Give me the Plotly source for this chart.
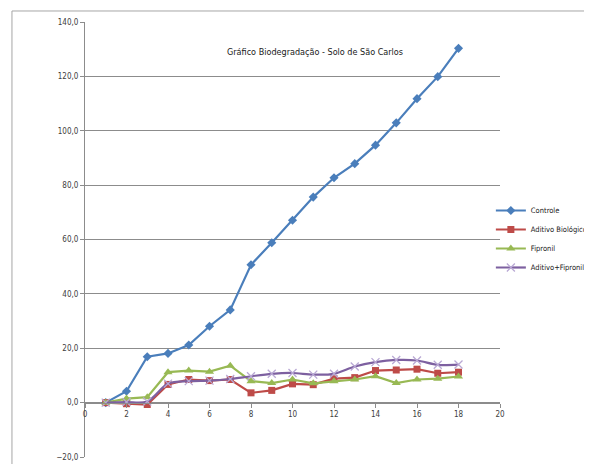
import plotly.graph_objects as go

x_days = list(range(1, 19))
controle = [0.0, 4.2, 16.9, 18.1, 21.2, 28.1, 34.1, 50.7, 58.8, 67.1, 75.6, 82.7, 87.9, 94.7, 102.9, 111.8, 119.9, 130.3]
aditivo_bio = [0.0, -0.4, -0.7, 6.7, 8.5, 8.1, 8.5, 3.6, 4.5, 6.9, 6.6, 8.8, 9.2, 11.8, 12.0, 12.3, 10.8, 11.2]
fipronil = [0.0, 1.5, 2.0, 11.2, 11.8, 11.4, 13.6, 7.9, 7.2, 8.5, 7.1, 7.9, 8.5, 9.7, 7.2, 8.5, 8.8, 9.6]
aditivo_fip = [0.0, 0.2, 0.4, 7.0, 7.9, 8.1, 8.7, 9.7, 10.6, 10.9, 10.3, 10.6, 13.3, 14.9, 15.7, 15.5, 13.9, 14.0]
y_ticks = [-20, 0, 20, 40, 60, 80, 100, 120, 140]
x_ticks = list(range(0, 21, 2))
title_text = "Gráfico Biodegradação - Solo de São Carlos"

FONT = "DejaVu Sans Condensed, sans-serif"
GRID = "#8c8c8c"

fig = go.Figure()
fig.add_trace(go.Scatter(x=x_days, y=controle, name="Controle", mode="lines+markers",
                         line=dict(color="#4A7EBB", width=2.2),
                         marker=dict(symbol="diamond", size=7, color="#4A7EBB")))
fig.add_trace(go.Scatter(x=x_days, y=aditivo_bio, name="Aditivo Biológico", mode="lines+markers",
                         line=dict(color="#BE4B48", width=2.2),
                         marker=dict(symbol="square", size=7, color="#BE4B48")))
fig.add_trace(go.Scatter(x=x_days, y=fipronil, name="Fipronil", mode="lines+markers",
                         line=dict(color="#98B954", width=2.2),
                         marker=dict(symbol="triangle-up", size=8, color="#98B954")))
fig.add_trace(go.Scatter(x=x_days, y=aditivo_fip, name="Aditivo+Fipronil", mode="lines+markers",
                         line=dict(color="#7D60A0", width=2.2, shape="spline", smoothing=0.8),
                         marker=dict(symbol="x-thin-open", size=8, color="#B9A8D4",
                                     line=dict(width=1.3, color="#B9A8D4"))))

fig.update_layout(
    width=592, height=464,
    margin=dict(l=77, r=100, t=14, b=15, autoexpand=False),
    paper_bgcolor="white", plot_bgcolor="white",
    separators=",.",
    font=dict(family=FONT, size=8, color="#404040"),
    showlegend=True,
    legend=dict(x=0.978, y=0.6, xanchor="left", yanchor="top",
                font=dict(family=FONT, size=7.5, color="#202020"),
                itemwidth=30, bgcolor="rgba(0,0,0,0)", tracegroupgap=0),
    xaxis=dict(range=[0, 20], tickvals=x_ticks, ticktext=[str(v) for v in x_ticks],
               showgrid=False, zeroline=False, showline=True, linecolor=GRID, linewidth=1,
               ticks="outside", ticklen=4, tickcolor=GRID, anchor="free", position=0.125,
               automargin=False,
               tickfont=dict(family=FONT, size=8, color="#404040")),
    yaxis=dict(range=[-20, 140], tickvals=y_ticks, tickformat=".1f",
               showgrid=True, gridcolor=GRID, gridwidth=1, zeroline=False,
               showline=True, linecolor=GRID, linewidth=1, automargin=False,
               ticks="outside", ticklen=4, tickcolor=GRID,
               tickfont=dict(family=FONT, size=8, color="#404040")),
    annotations=[dict(text=title_text, x=0.554, y=0.947, xref="paper", yref="paper",
                      showarrow=False, font=dict(family=FONT, size=9, color="#202020"))],
    shapes=[dict(type="rect", xref="paper", yref="paper", x0=-0.176, y0=-0.2, x1=1.5, y1=1.0253,
                 line=dict(color="#a6a6a6", width=1), layer="above")],
)

fig.write_html("out.html")
